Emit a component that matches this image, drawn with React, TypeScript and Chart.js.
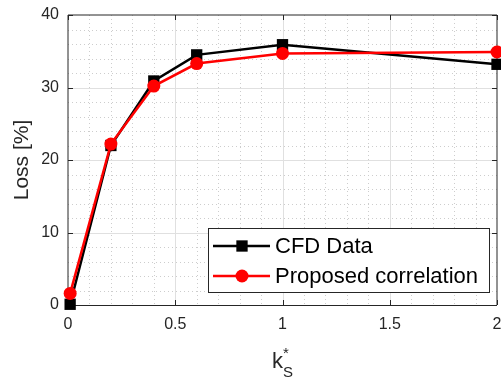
import React, { useEffect, useRef } from 'react';
import { Chart, registerables } from 'chart.js';

Chart.register(...registerables);

const xValues = [0.01, 0.2, 0.4, 0.6, 1, 2];
const cfdData = [0.1, 22.0, 30.9, 34.5, 35.9, 33.2];
const correlationData = [1.6, 22.2, 30.2, 33.3, 34.7, 34.9];
const xTicks = [0, 0.5, 1, 1.5, 2];
const yTicks = [0, 10, 20, 30, 40];
const xMinorStep = 0.1;
const yMinorStep = 2;
const seriesNames = ['CFD Data', 'Proposed correlation'];
const yTitle = 'Loss [%]';
const xTitleMain = 'k';
const xTitleSub = 'S';
const xTitleSup = '*';

const FONT = '"Liberation Sans", Arial, Helvetica, sans-serif';
const AXIS = '#262626';
const RIGHT_GAP = 4;

const matlabPlugin = {
  id: 'matlabStyle',
  afterLayout(chart: any) {
    const a = chart.chartArea;
    const target = chart.width - RIGHT_GAP;
    if (a.right !== target) {
      a.right = target;
      a.width = a.right - a.left;
      const xs = chart.scales.x;
      xs.right = target;
      xs.width = target - xs.left;
      xs.configure();
    }
  },
  beforeDatasetsDraw(chart: any) {
    const { ctx, chartArea: a, scales } = chart;
    const xs = scales.x;
    const ys = scales.y;
    ctx.save();
    // minor dotted grid
    ctx.strokeStyle = '#cdcdcd';
    ctx.lineWidth = 1;
    ctx.setLineDash([1, 3]);
    const xMin = xs.min, xMax = xs.max, yMin = ys.min, yMax = ys.max;
    for (let k = 1; xMin + k * xMinorStep < xMax - 1e-9; k++) {
      const v = xMin + k * xMinorStep;
      if (xTicks.some((t) => Math.abs(t - v) < 1e-9)) continue;
      const px = Math.round(xs.getPixelForValue(v)) + 0.5;
      ctx.beginPath();
      ctx.moveTo(px, a.top);
      ctx.lineTo(px, a.bottom);
      ctx.stroke();
    }
    for (let k = 1; yMin + k * yMinorStep < yMax - 1e-9; k++) {
      const v = yMin + k * yMinorStep;
      if (yTicks.some((t) => Math.abs(t - v) < 1e-9)) continue;
      const py = Math.round(ys.getPixelForValue(v)) + 0.5;
      ctx.beginPath();
      ctx.moveTo(a.left, py);
      ctx.lineTo(a.right, py);
      ctx.stroke();
    }
    ctx.setLineDash([]);
    // major grid
    ctx.strokeStyle = '#e0e0e0';
    xTicks.forEach((v) => {
      if (v === xMin || v === xMax) return;
      const px = Math.round(xs.getPixelForValue(v)) + 0.5;
      ctx.beginPath();
      ctx.moveTo(px, a.top);
      ctx.lineTo(px, a.bottom);
      ctx.stroke();
    });
    yTicks.forEach((v) => {
      if (v === yMin || v === yMax) return;
      const py = Math.round(ys.getPixelForValue(v)) + 0.5;
      ctx.beginPath();
      ctx.moveTo(a.left, py);
      ctx.lineTo(a.right, py);
      ctx.stroke();
    });
    // box
    ctx.strokeStyle = AXIS;
    ctx.lineWidth = 1;
    ctx.beginPath();
    ctx.moveTo(a.left, a.top);
    ctx.lineTo(a.right, a.top);
    ctx.moveTo(a.right, a.top);
    ctx.lineTo(a.right, a.bottom);
    ctx.moveTo(a.left, a.top);
    ctx.lineTo(a.left, a.bottom);
    ctx.stroke();
    ctx.beginPath();
    ctx.moveTo(a.left, a.bottom + 0.5);
    ctx.lineTo(a.right, a.bottom + 0.5);
    ctx.stroke();
    // tick marks (inside, all four sides)
    const tl = 5;
    ctx.beginPath();
    xTicks.forEach((v) => {
      const px = Math.round(xs.getPixelForValue(v)) + 0.5;
      ctx.moveTo(px, a.bottom);
      ctx.lineTo(px, a.bottom - tl);
      ctx.moveTo(px, a.top);
      ctx.lineTo(px, a.top + tl);
    });
    yTicks.forEach((v) => {
      const py = Math.round(ys.getPixelForValue(v)) + 0.5;
      ctx.moveTo(a.left, py);
      ctx.lineTo(a.left + tl, py);
      ctx.moveTo(a.right, py);
      ctx.lineTo(a.right - tl, py);
    });
    ctx.stroke();
    ctx.restore();
  },
  afterDraw(chart: any) {
    const { ctx, chartArea: a } = chart;
    ctx.save();
    // y title
    ctx.fillStyle = AXIS;
    ctx.font = `21px ${FONT}`;
    ctx.textAlign = 'center';
    ctx.textBaseline = 'middle';
    ctx.translate(22, (a.top + a.bottom) / 2);
    ctx.rotate(-Math.PI / 2);
    ctx.fillText(yTitle, 0, 0);
    ctx.restore();

    // x title k_S^*
    ctx.save();
    ctx.fillStyle = AXIS;
    ctx.textBaseline = 'alphabetic';
    ctx.textAlign = 'left';
    const cx = (a.left + a.right) / 2;
    ctx.font = `22px ${FONT}`;
    const kw = ctx.measureText(xTitleMain).width;
    ctx.font = `15px ${FONT}`;
    const sw = ctx.measureText(xTitleSub).width;
    const x0 = cx - (kw + sw) / 2;
    ctx.font = `22px ${FONT}`;
    ctx.fillText(xTitleMain, x0, 368);
    ctx.font = `15px ${FONT}`;
    ctx.fillText(xTitleSub, x0 + kw, 377);
    ctx.fillText(xTitleSup, x0 + kw, 358);
    ctx.restore();

    // legend
    ctx.save();
    const boxR = a.right - 8;
    const boxB = a.bottom - 13;
    const boxL = boxR - 281;
    const boxT = boxB - 64;
    ctx.fillStyle = '#ffffff';
    ctx.fillRect(boxL, boxT, boxR - boxL, boxB - boxT);
    ctx.strokeStyle = AXIS;
    ctx.lineWidth = 1;
    ctx.strokeRect(Math.round(boxL) + 0.5, Math.round(boxT) + 0.5, Math.round(boxR - boxL), Math.round(boxB - boxT));
    const rowsY = [boxT + 18, boxT + 48];
    chart.data.datasets.forEach((ds: any, i: number) => {
      const y = rowsY[i];
      ctx.strokeStyle = ds.borderColor;
      ctx.lineWidth = ds.borderWidth;
      ctx.beginPath();
      ctx.moveTo(boxL + 5, y);
      ctx.lineTo(boxL + 62, y);
      ctx.stroke();
      ctx.fillStyle = ds.backgroundColor;
      if (ds.pointStyle === 'rect') {
        const s = ds.pointRadius * Math.SQRT1_2;
        ctx.fillRect(boxL + 34 - s, y - s, 2 * s, 2 * s);
      } else {
        ctx.beginPath();
        ctx.arc(boxL + 34, y, ds.pointRadius, 0, Math.PI * 2);
        ctx.fill();
      }
      ctx.fillStyle = '#000000';
      ctx.font = `22px ${FONT}`;
      ctx.textAlign = 'left';
      ctx.textBaseline = 'middle';
      ctx.fillText(ds.label, boxL + 67, y + 1);
    });
    ctx.restore();
  },
};

export default function App() {
  const canvasRef = useRef<HTMLCanvasElement | null>(null);

  useEffect(() => {
    const canvas = canvasRef.current;
    if (!canvas) return;
    const chart = new Chart(canvas, {
      type: 'line',
      data: {
        datasets: [
          {
            label: seriesNames[0],
            data: xValues.map((x, i) => ({ x, y: cfdData[i] })),
            borderColor: '#000000',
            backgroundColor: '#000000',
            borderWidth: 2.5,
            pointStyle: 'rect',
            pointRadius: 8,
            pointHoverRadius: 8,
            pointBorderWidth: 0,
            order: 2,
            clip: false,
          } as any,
          {
            label: seriesNames[1],
            data: xValues.map((x, i) => ({ x, y: correlationData[i] })),
            borderColor: '#ff0000',
            backgroundColor: '#ff0000',
            borderWidth: 2.5,
            pointStyle: 'circle',
            pointRadius: 6.5,
            pointHoverRadius: 6.5,
            pointBorderWidth: 0,
            order: 1,
            clip: false,
          } as any,
        ],
      },
      options: {
        animation: false,
        responsive: false,
        devicePixelRatio: 1,
        events: [],
        layout: { padding: { top: 15, right: RIGHT_GAP, left: 0, bottom: 0 } },
        plugins: {
          legend: { display: false },
          tooltip: { enabled: false },
          title: { display: false },
        },
        scales: {
          x: {
            type: 'linear',
            min: 0,
            max: 2,
            grid: { display: false, drawTicks: false },
            border: { display: false },
            afterBuildTicks: (s: any) => {
              s.ticks = xTicks.map((v) => ({ value: v }));
            },
            ticks: {
              color: AXIS,
              font: { family: FONT, size: 16 },
              padding: 10,
              maxRotation: 0,
              autoSkip: false,
              callback: (v: any) => String(v),
            },
            afterFit: (s: any) => {
              s.height = 76;
              s.paddingLeft = 0;
              s.paddingRight = 0;
            },
          },
          y: {
            type: 'linear',
            min: 0,
            max: 40,
            grid: { display: false, drawTicks: false },
            border: { display: false },
            afterBuildTicks: (s: any) => {
              s.ticks = yTicks.map((v) => ({ value: v }));
            },
            ticks: {
              color: AXIS,
              font: { family: FONT, size: 16 },
              padding: 9,
              autoSkip: false,
              callback: (v: any) => String(v),
            },
            afterFit: (s: any) => {
              s.width = 68;
              s.paddingTop = 0;
              s.paddingBottom = 0;
            },
          },
        },
      } as any,
      plugins: [matlabPlugin],
    });
    return () => chart.destroy();
  }, []);

  return (
    <div style={{ position: 'fixed', left: 0, top: 0, width: 501, height: 381, background: '#ffffff' }}>
      <canvas ref={canvasRef} width={501} height={381} style={{ display: 'block', width: 501, height: 381 }} />
    </div>
  );
}
